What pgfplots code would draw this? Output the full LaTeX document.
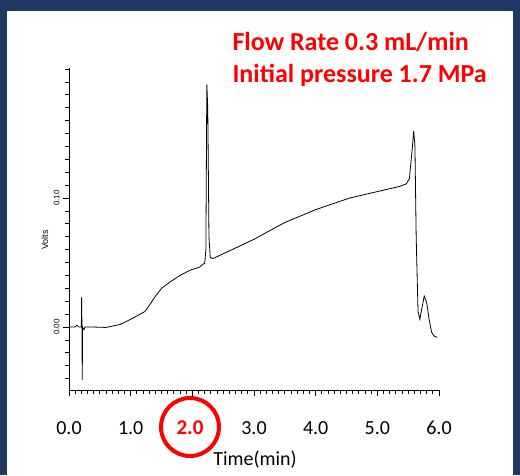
\documentclass[border=0pt]{standalone}
\usepackage{pgfplots}
\pgfplotsset{compat=1.18}
\usepackage{fontspec}
\setmainfont{Carlito}
\newfontfamily\arial{Liberation Sans}
\definecolor{frame}{RGB}{31,56,100}
\begin{document}
\begin{tikzpicture}[x=1pt,y=1pt]
\useasboundingbox (0,0) rectangle (520,475);
\fill[frame] (0,0) rectangle (520,475);
\fill[white] (7,0) rectangle (513,464);
\begin{axis}[at={(69pt,85pt)},anchor=south west,scale only axis,width=370pt,height=322pt,
  xmin=0,xmax=6,ymin=-0.0488,ymax=0.2008,
  axis x line*=bottom, axis y line*=left, axis line style={line width=0.8pt},
  xtick={0,1,...,6}, minor x tick num=9,
  xticklabels={0.0,1.0,\phantom{2.0},3.0,4.0,5.0,6.0},
  ytick={0,0.1}, yticklabels={0.00,0.10},
  minor ytick={-0.04,-0.03,-0.02,-0.01,0.01,0.02,0.03,0.04,0.05,0.06,0.07,0.08,0.09,0.11,0.12,0.13,0.14,0.15,0.16,0.17,0.18,0.19,0.2},
  tick align=outside, major tick length=6pt, minor tick length=4pt,
  every tick/.style={black,line width=0.8pt},
  every minor tick/.style={black,line width=0.7pt},
  x tick label style={font=\fontsize{20}{20}\selectfont, anchor=center, yshift=-32pt},
  y tick label style={font=\arial\fontsize{8}{8}\selectfont, rotate=90, anchor=south},
  /pgf/number format/assume math mode=true,
  clip=false]
\addplot[black, line width=0.8pt] coordinates {
(0,0.0) (0.1,0.0) (0.13,0.0015) (0.16,0.0) (0.2,0.0)
(0.205,0.023) (0.21,0.0) (0.215,-0.041) (0.22,0.0) (0.24,-0.002) (0.26,0.0)
(0.4,0.0) (0.6,-0.0003) (0.83,0.002) (1.0,0.006) (1.23,0.012) (1.32,0.018) (1.39,0.023)
(1.5,0.030) (1.64,0.035) (1.8,0.040) (1.96,0.044) (2.12,0.0465) (2.18,0.049) (2.2,0.049)
(2.22,0.06) (2.235,0.188) (2.25,0.17) (2.27,0.07) (2.29,0.054) (2.33,0.053)
(2.6,0.059) (3.0,0.068) (3.42,0.079) (3.5,0.081) (4.0,0.091) (4.55,0.100) (5.0,0.105)
(5.36,0.109) (5.47,0.111) (5.52,0.115) (5.56,0.135) (5.59,0.152) (5.61,0.14)
(5.63,0.07) (5.66,0.012) (5.69,0.006) (5.72,0.014) (5.76,0.024) (5.8,0.019) (5.84,0.006)
(5.88,-0.004) (5.92,-0.007) (5.97,-0.008)
};
\end{axis}
\node[rotate=90,font=\arial\fontsize{9}{9}\selectfont] at (45,235) {Volts};
\node[font=\fontsize{20}{20}\selectfont] at (255,15) {Time(min)};
\node[font=\bfseries\fontsize{21}{21}\selectfont, text=red] at (190,47) {2.0};
\draw[red, line width=4pt] (190,48) circle (29);
\node[font=\bfseries\fontsize{26}{26}\selectfont, text=red, anchor=west] at (229,433) {Flow Rate 0.3 mL/min};
\node[font=\bfseries\fontsize{26}{26}\selectfont, text=red, anchor=west] at (229,400) {Initial pressure 1.7 MPa};
\end{tikzpicture}
\end{document}
